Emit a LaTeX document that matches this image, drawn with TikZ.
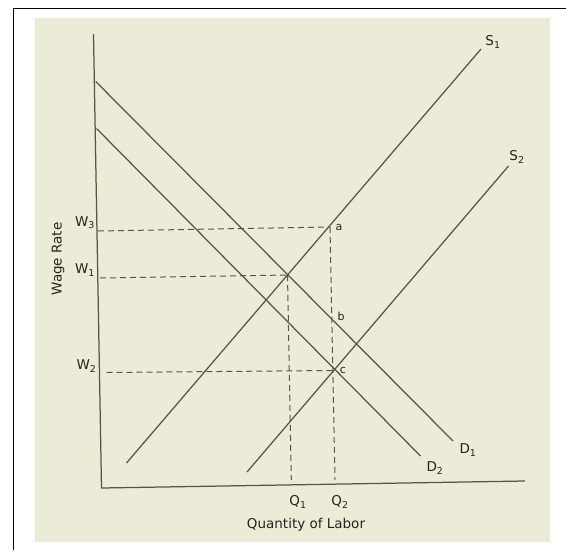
\documentclass[tikz,border=0pt]{standalone}
\usepackage{fontspec}
\setmainfont{DejaVu Sans}
\definecolor{paper}{RGB}{236,235,216}
\definecolor{ink}{RGB}{85,85,76}
\definecolor{txt}{RGB}{35,35,30}
\begin{document}
\begin{tikzpicture}[x=1pt,y=-1pt,
  curve/.style={draw=ink,line width=1.25pt},
  guide/.style={draw=ink,line width=1pt,dash pattern=on 6pt off 4pt},
  lbl/.style={text=txt,font=\fontsize{13.5}{13.5}\selectfont,inner sep=0pt},
  pt/.style={text=txt,font=\fontsize{11}{11}\selectfont,inner sep=0pt}]
\useasboundingbox (0,0) rectangle (566,550);
\fill[white] (0,0) rectangle (566,550);
\fill[paper] (35,17.5) rectangle (550,542);
\draw[black,line width=1.4pt] (13.7,550) -- (13.7,8.3) -- (566,8.3);
% axes
\coordinate (ytop) at (93.5,34);
\coordinate (orig) at (101.5,488);
\coordinate (xend) at (525,481);
\draw[curve] (ytop) -- (orig) -- (xend);
% curves
\coordinate (s1a) at (126.5,463); \coordinate (s1b) at (481,49);
\coordinate (s2a) at (247,472);   \coordinate (s2b) at (508.5,166);
\coordinate (d1a) at (95.7,81.5); \coordinate (d1b) at (453,441);
\coordinate (d2a) at (96.5,128.5);\coordinate (d2b) at (420.5,456);
\draw[curve] (s1a) -- (s1b);
\draw[curve] (s2a) -- (s2b);
\draw[curve] (d1a) -- (d1b);
\draw[curve] (d2a) -- (d2b);
% key points
\coordinate (a) at (330,227);
\coordinate (e1) at (287.5,275);
\coordinate (b) at (332,318);
\coordinate (c) at (333.3,370.5);
\coordinate (w3) at (98,231);
\coordinate (w1) at (100,278);
\coordinate (w2) at (106.5,372.5);
\coordinate (q1) at (291.3,480);
\coordinate (q2) at (335,480);
\draw[guide] (w3) -- (a);
\draw[guide] (w1) -- (e1);
\draw[guide] (w2) -- (c);
\draw[guide] (e1) -- (q1);
\draw[guide] (a) -- (q2);
% labels
\node[lbl] (lw3) at (85,223) {W\textsubscript{3}};
\node[lbl] (lw1) at (85,270) {W\textsubscript{1}};
\node[lbl] (lw2) at (86.5,366) {W\textsubscript{2}};
\node[lbl] (lq1) at (298,502) {Q\textsubscript{1}};
\node[lbl] (lq2) at (340,502) {Q\textsubscript{2}};
\node[lbl] (ls1) at (493,42) {S\textsubscript{1}};
\node[lbl] (ls2) at (517,157) {S\textsubscript{2}};
\node[lbl] (ld1) at (468,450) {D\textsubscript{1}};
\node[lbl] (ld2) at (435,468) {D\textsubscript{2}};
\node[pt] (la) at (339,227) {a};
\node[pt] (lb) at (341,316) {b};
\node[pt] (lc) at (343,370) {c};
\node[lbl] (xt) at (306,525) {Quantity of Labor};
\node[lbl,rotate=90] (yt) at (58,259) {Wage Rate};
\end{tikzpicture}
\end{document}
